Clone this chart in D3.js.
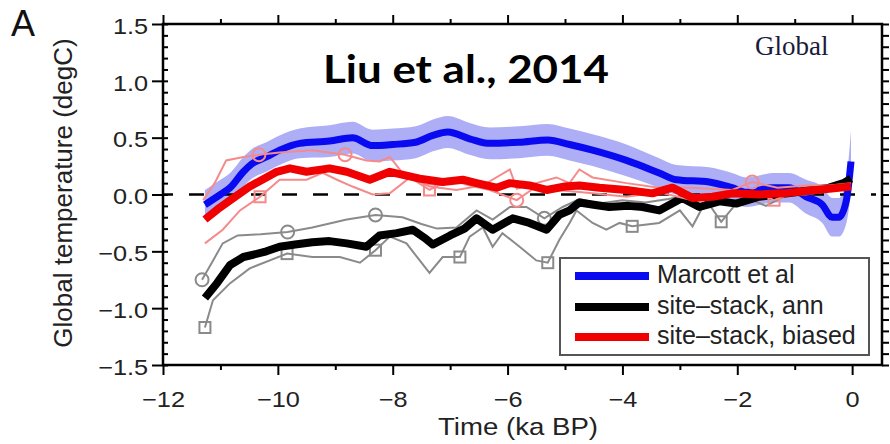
<!DOCTYPE html>
<html>
<head>
    <meta charset="UTF-8">
    <title>Liu et al 2014 global temperature</title>
    <script src="https://cdn.jsdelivr.net/npm/d3@7"></script>
    <style>
        body { margin: 0; background: #fff; }
        svg { font-family: "Liberation Sans", Arial, sans-serif; }
    </style>
</head>
<body>
<svg id="chart"></svg>
<script>
    // ---- data (time in ka BP, temperature in degC) ----
    var xTicks = [-12, -10, -8, -6, -4, -2, 0];
    var yTicks = [-1.5, -1.0, -0.5, 0.0, 0.5, 1.0, 1.5];

    var marcottTime = [-11.27, -11.0, -10.83, -10.6, -10.45, -10.2, -9.97, -9.62, -9.1, -8.7, -8.35, -8.0, -7.6, -7.3, -7.04, -6.66, -6.31, -5.8, -5.3, -4.92, -4.52, -3.93, -3.36, -3.06, -2.49, -2.09, -1.84, -1.6, -1.39, -1.1, -0.8, -0.52, -0.35, -0.23, -0.1, -0.02];
    var marcottTemp = [-0.09, 0.0, 0.06, 0.2, 0.27, 0.33, 0.39, 0.45, 0.47, 0.50, 0.43, 0.44, 0.46, 0.52, 0.55, 0.49, 0.45, 0.46, 0.48, 0.44, 0.39, 0.30, 0.19, 0.13, 0.11, 0.06, 0.02, 0.04, 0.06, 0.06, -0.02, -0.09, -0.2, -0.2, -0.05, 0.29];
    var marcottErr = [0.13, 0.13, 0.13, 0.13, 0.13, 0.13, 0.13, 0.13, 0.14, 0.14, 0.14, 0.14, 0.14, 0.14, 0.14, 0.14, 0.14, 0.14, 0.14, 0.14, 0.14, 0.14, 0.13, 0.13, 0.13, 0.13, 0.13, 0.13, 0.13, 0.13, 0.15, 0.16, 0.17, 0.17, 0.2, 0.27];

    var annTime = [-11.27, -11.06, -10.83, -10.6, -10.43, -10.2, -9.97, -9.7, -9.4, -9.1, -8.8, -8.46, -8.23, -7.93, -7.65, -7.45, -7.3, -7.0, -6.75, -6.54, -6.26, -5.91, -5.62, -5.32, -5.1, -4.92, -4.75, -4.5, -4.23, -3.9, -3.65, -3.36, -2.96, -2.66, -2.31, -2.02, -1.62, -1.3, -1.0, -0.7, -0.4, -0.15, -0.02];
    var annTemp = [-0.91, -0.78, -0.62, -0.55, -0.53, -0.5, -0.46, -0.44, -0.42, -0.41, -0.43, -0.46, -0.36, -0.34, -0.31, -0.38, -0.44, -0.36, -0.3, -0.21, -0.31, -0.21, -0.25, -0.31, -0.18, -0.14, -0.07, -0.09, -0.11, -0.1, -0.11, -0.14, -0.03, -0.11, -0.06, -0.08, -0.02, 0.0, 0.02, 0.04, 0.06, 0.1, 0.14];

    var biasedTime = [-11.27, -11.05, -10.83, -10.49, -10.2, -10.02, -9.79, -9.5, -9.1, -8.8, -8.4, -8.05, -7.8, -7.53, -7.13, -6.78, -6.54, -6.19, -5.96, -5.62, -5.32, -5.0, -4.75, -4.4, -3.93, -3.48, -3.13, -2.78, -2.43, -2.09, -1.62, -1.2, -0.8, -0.4, -0.02];
    var biasedTemp = [-0.22, -0.13, -0.05, 0.07, 0.15, 0.2, 0.23, 0.2, 0.23, 0.2, 0.13, 0.2, 0.17, 0.14, 0.11, 0.13, 0.1, 0.06, 0.1, 0.08, 0.04, 0.07, 0.08, 0.06, 0.04, 0.01, 0.06, -0.03, -0.02, 0.01, 0.0, 0.01, 0.03, 0.05, 0.07];

    // thin grey members (ann)
    var annHiTime = [-11.32, -11.15, -10.96, -10.7, -10.3, -9.83, -9.4, -8.8, -8.3, -7.83, -7.5, -7.23, -6.89, -6.54, -6.26, -5.96, -5.67, -5.36, -5.04, -4.75, -4.4, -4.0, -3.6, -3.2, -2.8, -2.4, -2.0, -1.6, -1.2, -0.8, -0.4, -0.02];
    var annHiTemp = [-0.75, -0.6, -0.43, -0.36, -0.35, -0.33, -0.29, -0.22, -0.18, -0.2, -0.26, -0.3, -0.29, -0.14, -0.22, -0.11, -0.11, -0.21, -0.11, -0.04, -0.08, -0.05, -0.07, -0.04, 0.0, -0.02, 0.0, 0.02, 0.03, 0.05, 0.07, 0.12];
    var annLoTime = [-11.27, -11.13, -10.83, -10.49, -9.84, -9.4, -8.92, -8.57, -8.3, -8.05, -7.76, -7.53, -7.36, -7.13, -6.83, -6.66, -6.43, -6.26, -6.09, -5.79, -5.5, -5.3, -5.1, -4.92, -4.8, -4.52, -4.28, -4.05, -3.83, -3.36, -3.0, -2.78, -2.54, -2.28, -2.02, -1.74, -1.5, -1.2, -0.8, -0.4, -0.02];
    var annLoTemp = [-1.17, -0.93, -0.78, -0.65, -0.52, -0.55, -0.55, -0.6, -0.49, -0.37, -0.43, -0.58, -0.69, -0.55, -0.55, -0.37, -0.29, -0.46, -0.34, -0.46, -0.58, -0.6, -0.4, -0.25, -0.14, -0.25, -0.31, -0.25, -0.28, -0.25, -0.14, -0.28, -0.05, -0.24, -0.08, -0.05, -0.1, -0.02, 0.0, 0.03, 0.06];

    // thin pink members (biased)
    var biasHiTime = [-11.3, -11.1, -10.9, -10.6, -10.33, -9.97, -9.4, -8.83, -8.46, -8.23, -8.05, -7.83, -7.36, -6.89, -6.43, -5.96, -5.84, -5.5, -5.15, -4.92, -4.75, -4.52, -3.93, -3.36, -2.78, -2.09, -1.74, -1.3, -0.8, -0.4, -0.02];
    var biasHiTemp = [-0.05, 0.1, 0.3, 0.33, 0.35, 0.37, 0.39, 0.35, 0.3, 0.29, 0.33, 0.19, 0.07, 0.04, 0.08, 0.22, 0.05, 0.1, 0.15, 0.1, 0.22, 0.15, 0.1, 0.06, 0.06, 0.04, 0.11, 0.06, 0.08, 0.08, 0.1];
    var biasLoTime = [-11.27, -10.96, -10.66, -10.31, -9.97, -9.5, -9.22, -8.97, -8.7, -8.35, -8.05, -7.7, -7.36, -7.0, -6.66, -6.31, -5.84, -5.5, -5.15, -4.52, -3.93, -3.36, -2.78, -2.2, -1.62, -1.36, -1.0, -0.5, -0.02];
    var biasLoTemp = [-0.43, -0.31, -0.14, -0.02, 0.13, 0.13, 0.19, 0.13, 0.07, 0.0, 0.01, 0.15, 0.04, 0.13, 0.08, 0.04, -0.05, 0.07, 0.04, 0.01, -0.02, 0.02, -0.05, -0.02, 0.01, -0.05, 0.02, 0.04, 0.05];

    // open markers on the thin lines
    var greyCircleTime = [-11.32, -9.83, -8.3, -5.36];
    var greyCircleTemp = [-0.75, -0.33, -0.18, -0.21];
    var greySquareTime = [-11.27, -9.84, -8.3, -6.83, -5.3, -3.83, -2.28];
    var greySquareTemp = [-1.17, -0.52, -0.49, -0.55, -0.6, -0.28, -0.24];
    var pinkCircleTime = [-10.33, -8.83, -5.84, -1.74];
    var pinkCircleTemp = [0.35, 0.35, -0.05, 0.11];
    var pinkSquareTime = [-10.31, -7.36, -1.36];
    var pinkSquareTemp = [-0.02, 0.04, -0.05];

    var legendNames = ["Marcott et al", "site\u2013stack, ann", "site\u2013stack, biased"];
    var legendColors = ["#0a0af0", "#000000", "#f00000"];

    // ---- layout ----
    var W = 890, H = 444;
    var padL = 163, padR = 882, padT = 24, padB = 365;

    var svg = d3.select("#chart").attr("width", W).attr("height", H);

    var x = d3.scaleLinear().domain([-12, 0.52]).range([padL, padR]);
    var y = d3.scaleLinear().domain([-1.5, 1.5]).range([padB, padT]);

    function pts(ts, vs) {
        return ts.map(function(t, i) { return [t, vs[i]]; });
    }

    var line = d3.line()
        .x(function(d) { return x(d[0]); })
        .y(function(d) { return y(d[1]); });

    // uncertainty band
    var band = d3.area()
        .x(function(d, i) { return x(marcottTime[i]); })
        .y0(function(d, i) { return y(marcottTemp[i] - marcottErr[i]); })
        .y1(function(d, i) { return y(marcottTemp[i] + marcottErr[i]); })
        .curve(d3.curveMonotoneX);

    svg.append("path")
        .datum(marcottTime)
        .attr("d", band)
        .attr("fill", "#aeaef6");

    // zero line
    svg.append("line")
        .attr("x1", padL).attr("x2", padR - 6)
        .attr("y1", y(0)).attr("y2", y(0))
        .attr("stroke", "#000")
        .attr("stroke-width", 2.5)
        .attr("stroke-dasharray", "15,16")
        .attr("stroke-dashoffset", 5);

    // marcott line
    svg.append("path")
        .datum(pts(marcottTime, marcottTemp))
        .attr("d", line.curve(d3.curveMonotoneX))
        .attr("fill", "none")
        .attr("stroke", legendColors[0])
        .attr("stroke-width", 7)
        .attr("stroke-linejoin", "round");

    line.curve(d3.curveLinear);

    // thin grey members
    [pts(annHiTime, annHiTemp), pts(annLoTime, annLoTemp)].forEach(function(s) {
        svg.append("path")
            .datum(s)
            .attr("d", line)
            .attr("fill", "none")
            .attr("stroke", "#8a8a8a")
            .attr("stroke-width", 2);
    });

    svg.selectAll(".gcirc")
        .data(pts(greyCircleTime, greyCircleTemp))
        .enter().append("circle")
        .attr("cx", function(d) { return x(d[0]); })
        .attr("cy", function(d) { return y(d[1]); })
        .attr("r", 6.5)
        .attr("fill", "none")
        .attr("stroke", "#8a8a8a")
        .attr("stroke-width", 2);

    svg.selectAll(".gsq")
        .data(pts(greySquareTime, greySquareTemp))
        .enter().append("rect")
        .attr("x", function(d) { return x(d[0]) - 5.5; })
        .attr("y", function(d) { return y(d[1]) - 5.5; })
        .attr("width", 11).attr("height", 11)
        .attr("fill", "none")
        .attr("stroke", "#8a8a8a")
        .attr("stroke-width", 2);

    // black thick
    svg.append("path")
        .datum(pts(annTime, annTemp))
        .attr("d", line)
        .attr("fill", "none")
        .attr("stroke", legendColors[1])
        .attr("stroke-width", 8)
        .attr("stroke-linejoin", "round");

    // thin pink members
    [pts(biasHiTime, biasHiTemp), pts(biasLoTime, biasLoTemp)].forEach(function(s) {
        svg.append("path")
            .datum(s)
            .attr("d", line)
            .attr("fill", "none")
            .attr("stroke", "#f58a8a")
            .attr("stroke-width", 2);
    });

    svg.selectAll(".pcirc")
        .data(pts(pinkCircleTime, pinkCircleTemp))
        .enter().append("circle")
        .attr("cx", function(d) { return x(d[0]); })
        .attr("cy", function(d) { return y(d[1]); })
        .attr("r", 6.5)
        .attr("fill", "none")
        .attr("stroke", "#f58a8a")
        .attr("stroke-width", 2);

    svg.selectAll(".psq")
        .data(pts(pinkSquareTime, pinkSquareTemp))
        .enter().append("rect")
        .attr("x", function(d) { return x(d[0]) - 5.5; })
        .attr("y", function(d) { return y(d[1]) - 5.5; })
        .attr("width", 11).attr("height", 11)
        .attr("fill", "none")
        .attr("stroke", "#f58a8a")
        .attr("stroke-width", 2);

    // red thick
    svg.append("path")
        .datum(pts(biasedTime, biasedTemp))
        .attr("d", line)
        .attr("fill", "none")
        .attr("stroke", legendColors[2])
        .attr("stroke-width", 8)
        .attr("stroke-linejoin", "round");

    // ---- axes ----
    var minorX = d3.range(-11, 1, 2);
    var minorY = d3.range(-15, 16).map(function(v) { return v / 10; });

    function clean(g) {
        g.select(".domain").remove();
        g.selectAll("line").attr("stroke", "#000").attr("stroke-width", 2);
    }

    var gb = svg.append("g").attr("transform", "translate(0," + padB + ")")
        .call(d3.axisBottom(x).tickValues(xTicks).tickSize(10).tickFormat(d3.format("d")));
    clean(gb);
    gb.attr("font-family", null);
    gb.selectAll("text")
        .attr("y", 42).attr("dy", 0)
        .attr("font-size", 22)
        .attr("fill", "#222")
        .attr("transform", "scale(1.15,1)");
    svg.append("g").attr("transform", "translate(0," + padB + ")")
        .call(d3.axisBottom(x).tickValues(minorX).tickSize(5).tickFormat(""))
        .call(clean);

    svg.append("g").attr("transform", "translate(0," + padT + ")")
        .call(d3.axisTop(x).tickValues(xTicks).tickSize(9).tickFormat(""))
        .call(clean);
    svg.append("g").attr("transform", "translate(0," + padT + ")")
        .call(d3.axisTop(x).tickValues(minorX).tickSize(5).tickFormat(""))
        .call(clean);

    var gl = svg.append("g").attr("transform", "translate(" + padL + ",0)")
        .call(d3.axisLeft(y).tickValues(yTicks).tickSize(11).tickPadding(2).tickFormat(d3.format(".1f")));
    clean(gl);
    gl.attr("font-family", null);
    gl.selectAll("text")
        .attr("dy", "0.42em")
        .attr("font-size", 22)
        .attr("fill", "#222")
        .attr("transform", "scale(1.15,1)");
    svg.append("g").attr("transform", "translate(" + padL + ",0)")
        .call(d3.axisLeft(y).tickValues(minorY).tickSize(-5).tickFormat(""))
        .call(clean);

    svg.append("g").attr("transform", "translate(" + padR + ",0)")
        .call(d3.axisRight(y).tickValues(minorY).tickSize(7).tickFormat(""))
        .call(clean);

    // frame
    svg.append("rect")
        .attr("x", padL).attr("y", padT)
        .attr("width", padR - padL).attr("height", padB - padT)
        .attr("fill", "none")
        .attr("stroke", "#000")
        .attr("stroke-width", 2.5);

    // axis titles
    svg.append("text")
        .attr("transform", "translate(518,435) scale(1.15,1)")
        .attr("text-anchor", "middle")
        .attr("font-size", 24)
        .attr("fill", "#222")
        .text("Time (ka BP)");

    svg.append("text")
        .attr("transform", "translate(72,193) rotate(-90)")
        .attr("text-anchor", "middle")
        .attr("font-size", 26)
        .attr("fill", "#222")
        .text("Global temperature (degC)");

    // panel letter, annotations
    svg.append("text")
        .attr("x", 11).attr("y", 36)
        .attr("font-size", 36)
        .attr("fill", "#111")
        .text("A");

    svg.append("text")
        .attr("x", 323).attr("y", 83)
        .style("font-family", "Lato, 'Open Sans', sans-serif")
        .attr("font-weight", "bold")
        .attr("font-size", 39)
        .attr("textLength", 286)
        .attr("lengthAdjust", "spacingAndGlyphs")
        .attr("fill", "#000")
        .text("Liu et al., 2014");

    svg.append("text")
        .attr("x", 755).attr("y", 55)
        .style("font-family", "'Liberation Serif', 'DejaVu Serif', serif")
        .attr("font-size", 27)
        .attr("fill", "#1a1a3a")
        .text("Global");

    // legend
    var lg = svg.append("g");
    lg.append("rect")
        .attr("x", 560).attr("y", 258)
        .attr("width", 309).attr("height", 97)
        .attr("fill", "#fff")
        .attr("stroke", "#555")
        .attr("stroke-width", 2);

    var rowY = [276, 307, 337];
    legendNames.forEach(function(name, i) {
        lg.append("line")
            .attr("x1", 575).attr("x2", 649)
            .attr("y1", rowY[i]).attr("y2", rowY[i])
            .attr("stroke", legendColors[i])
            .attr("stroke-width", 8);
        lg.append("text")
            .attr("x", 657).attr("y", rowY[i] + 7)
            .attr("font-size", 25)
            .attr("fill", "#222")
            .text(name);
    });
</script>
</body>
</html>
